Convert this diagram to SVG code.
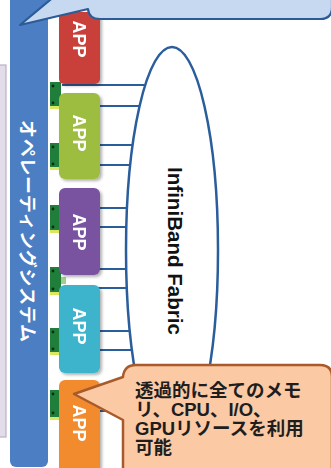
<svg xmlns="http://www.w3.org/2000/svg" width="331" height="468" viewBox="0 0 331 468">
<defs>
<filter id="sh" x="-20%" y="-20%" width="150%" height="150%">
<feDropShadow dx="2" dy="2" stdDeviation="1.5" flood-color="#000" flood-opacity="0.3"/>
</filter>
<style>
.link{stroke:#2a5d9c;stroke-width:2.2;fill:none}
.app{filter:url(#sh)}
.applbl{font-family:"Liberation Sans",Arial,sans-serif;font-weight:bold;font-size:18px;fill:#fff;text-anchor:middle;dominant-baseline:central}
.conn{fill:#1f7f3a}
.conn2{fill:#d9e85c}
.dot{fill:#0b2a12}
.jp{font-family:"Noto Sans CJK JP",sans-serif;font-weight:bold}
.note{font-family:"Liberation Sans","Noto Sans CJK JP",sans-serif;font-weight:bold;font-size:18.5px;fill:#1e1e1e}
</style>
</defs>
<rect x="0" y="0" width="331" height="468" fill="#fff"/>
<!-- left gray panel -->
<rect x="-6" y="65" width="12" height="372" fill="#e2dde8" stroke="#b9b1c5" stroke-width="1.2"/>
<!-- OS bar -->
<g id="os">
<rect x="10" y="-10" width="38" height="477" rx="6" fill="#4b7ec2"/>
<text class="jp" transform="translate(29,231) rotate(90)" font-size="18" fill="#fff" text-anchor="middle" dominant-baseline="central" textLength="222" lengthAdjust="spacing">オペレーティングシステム</text>
</g>
<!-- connectors -->
<g id="connectors">
<line class="link" x1="62" y1="85" x2="146" y2="85"/>
<line class="link" x1="62" y1="106" x2="140" y2="106"/>
<line class="link" x1="62" y1="145" x2="133" y2="145"/>
<line class="link" x1="62" y1="165" x2="131" y2="165"/>
<line class="link" x1="62" y1="208" x2="128" y2="208"/>
<line class="link" x1="62" y1="227" x2="127" y2="227"/>
<line class="link" x1="62" y1="269" x2="127" y2="269"/>
<line class="link" x1="62" y1="288" x2="128" y2="288"/>
<line class="link" x1="62" y1="331" x2="131" y2="331"/>
<line class="link" x1="62" y1="350" x2="133" y2="350"/>
<line class="link" x1="62" y1="392" x2="140" y2="392"/>
<line class="link" x1="62" y1="411" x2="145" y2="411"/>
</g>
<!-- green port blocks -->
<g id="ports">
<g><rect class="conn" x="50" y="82" width="11" height="27"/><rect class="conn2" x="50" y="106" width="11" height="3"/><rect x="61" y="100" width="5" height="7" fill="#9fcf8a"/><circle class="dot" cx="53" cy="86" r="1.4"/><circle class="dot" cx="53" cy="103" r="1.4"/></g>
<g><rect class="conn" x="50" y="143" width="11" height="27"/><rect class="conn2" x="50" y="167" width="11" height="3"/><circle class="dot" cx="53" cy="147" r="1.4"/><circle class="dot" cx="53" cy="164" r="1.4"/></g>
<g><rect class="conn" x="50" y="205" width="11" height="28"/><rect class="conn2" x="50" y="230" width="11" height="3"/><circle class="dot" cx="53" cy="209" r="1.4"/><circle class="dot" cx="53" cy="227" r="1.4"/></g>
<g><rect class="conn" x="50" y="267" width="11" height="28"/><rect class="conn2" x="50" y="292" width="11" height="3"/><rect x="61" y="277" width="5" height="7" fill="#9fcf8a"/><circle class="dot" cx="53" cy="271" r="1.4"/><circle class="dot" cx="53" cy="289" r="1.4"/></g>
<g><rect class="conn" x="50" y="328" width="11" height="27"/><rect class="conn2" x="50" y="352" width="11" height="3"/><circle class="dot" cx="53" cy="332" r="1.4"/><circle class="dot" cx="53" cy="349" r="1.4"/></g>
<g><rect class="conn" x="50" y="390" width="11" height="30"/><rect class="conn2" x="50" y="417" width="11" height="3"/><circle class="dot" cx="53" cy="394" r="1.4"/><circle class="dot" cx="53" cy="413" r="1.4"/></g>
</g>
<!-- fabric -->
<g id="fabric">
<ellipse cx="172" cy="250" rx="46" ry="203" fill="#fff" stroke="#2a5d9c" stroke-width="2.5"/>
<text transform="translate(175,251) rotate(90)" font-family="Liberation Sans,Arial,sans-serif" font-weight="bold" font-size="20" fill="#111" text-anchor="middle" dominant-baseline="central" textLength="168" lengthAdjust="spacingAndGlyphs">InfiniBand Fabric</text>
</g>
<!-- apps -->
<g id="app1" class="app"><rect x="59" y="12" width="41" height="72" rx="5" fill="#c9403a"/><text class="applbl" transform="translate(79,39) rotate(90)">APP</text></g>
<g id="app2" class="app"><rect x="59" y="93" width="41" height="86" rx="6" fill="#9dbd40"/><text class="applbl" transform="translate(79,133) rotate(90)">APP</text></g>
<g id="app3" class="app"><rect x="59" y="188" width="41" height="87" rx="6" fill="#7a52a0"/><text class="applbl" transform="translate(79,232) rotate(90)">APP</text></g>
<g id="app4" class="app"><rect x="59" y="285" width="41" height="88" rx="6" fill="#3db3cc"/><text class="applbl" transform="translate(79,326) rotate(90)">APP</text></g>
<g id="app5" class="app"><rect x="59" y="380" width="41" height="100" rx="6" fill="#f28b2f"/><text class="applbl" transform="translate(79,423) rotate(90)">APP</text></g>
<!-- top callout -->
<g id="callout-top">
<path d="M62,-10 L20,25 L88,9 Q89,19 100,19 H320 Q332,19 332,7 V-10 Z" fill="#c6d9f0" stroke="#2c5c98" stroke-width="2.2" stroke-linejoin="round"/>
</g>
<!-- bottom callout -->
<g id="callout-bottom">
<path d="M123,377 Q124,365 136,365 H320 Q332,365 332,377 V480 H123 V420 L74,394 Z" fill="#fcc9a5" stroke="#a85a2a" stroke-width="2.5" stroke-linejoin="round"/>
<text class="note" x="135" y="397"><tspan x="135" y="397">透過的に全てのメモ</tspan><tspan x="135" dy="19">リ、CPU、I/O、</tspan><tspan x="135" dy="19">GPUリソースを利用</tspan><tspan x="135" dy="19">可能</tspan></text>
</g>
</svg>
